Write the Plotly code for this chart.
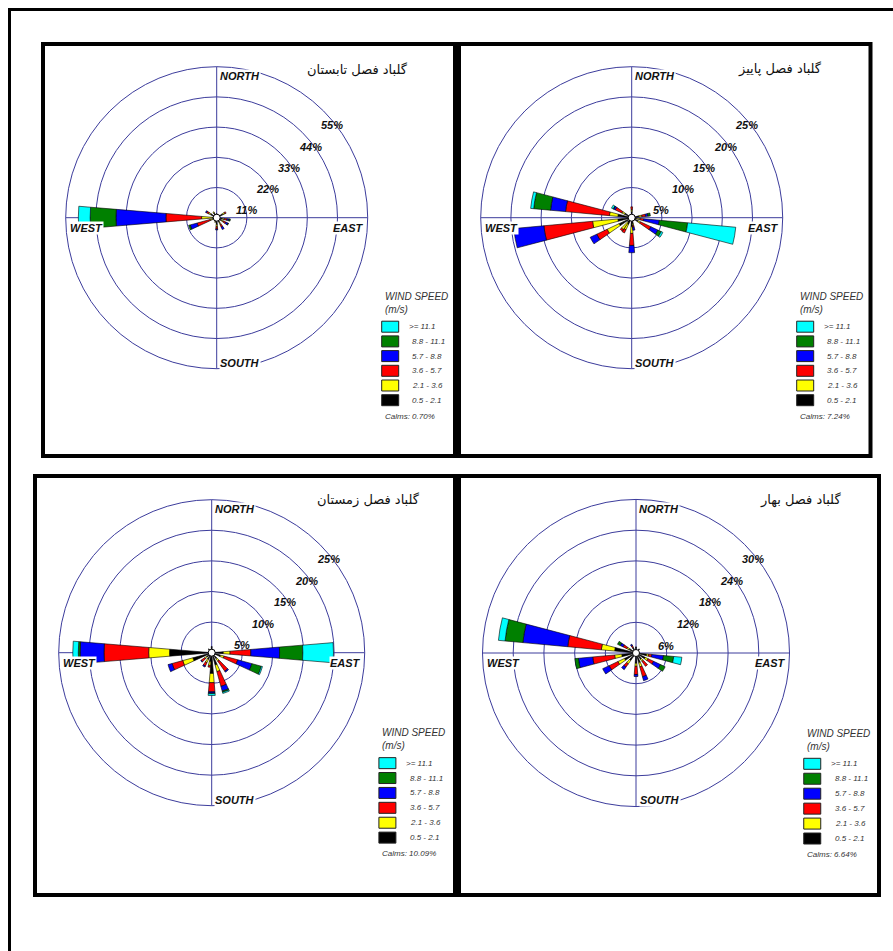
import plotly.graph_objects as go

# full page figure; the body margin is removed by a post script so the figure sits at (0,0)
W, H = 893, 951

# ---------------- data (percent frequency per direction, per speed class) ----------------
SPEED_CLASSES = [">= 11.1", "8.8 - 11.1", "5.7 - 8.8", "3.6 - 5.7", "2.1 - 3.6", "0.5 - 2.1"]
CLASS_COLORS = ["#00FFFF", "#008000", "#0000FF", "#FF0000", "#FFFF00", "#000000"]

# Summer
SUMMER_DIRS = [0, 30, 60, 100, 120, 150, 180, 200, 250, 270, 300, 330]
SUMMER_05_21 = [1.5, 1.2, 2.5, 2.0, 2.0, 2.0, 2.5, 1.5, 1.5, 1.5, 2.5, 2.0]
SUMMER_21_36 = [0, 0, 0.8, 0.8, 0.7, 0.8, 0.8, 0.3, 1.0, 4.0, 0.8, 0.4]
SUMMER_36_57 = [0, 0, 0.5, 1.0, 1.0, 1.0, 0.8, 0, 4.9, 13.0, 0.8, 0]
SUMMER_57_88 = [0, 0, 0, 0.7, 0.9, 1.0, 0.4, 0, 2.6, 18.2, 0.4, 0]
SUMMER_88_111 = [0, 0, 0, 0.5, 0.2, 0, 0, 0, 0.6, 9.4, 0, 0]
SUMMER_111 = [0, 0, 0, 0, 0, 0, 0, 0, 0, 4.3, 0, 0]

# Autumn
AUTUMN_DIRS = [0, 80, 100, 120, 170, 180, 210, 220, 240, 260, 280, 300]
AUTUMN_05_21 = [1.0, 1.2, 0.8, 1.2, 1.0, 1.5, 1.2, 1.0, 2.3, 2.3, 2.3, 1.3]
AUTUMN_21_36 = [0.3, 0.5, 0.6, 0.4, 0.3, 1.1, 1.0, 1.4, 2.2, 4.2, 1.4, 0.5]
AUTUMN_36_57 = [0.5, 0.6, 0.6, 1.9, 0.3, 2.0, 0.6, 0.3, 1.9, 8.1, 7.3, 1.2]
AUTUMN_57_88 = [0, 0.4, 2.6, 1.3, 0.5, 1.2, 0, 0, 1.2, 5.0, 2.5, 0.3]
AUTUMN_88_111 = [0, 0.4, 4.7, 0.6, 0, 0, 0, 0, 0, 0, 2.8, 0.1]
AUTUMN_111 = [0, 0, 8.0, 0.3, 0, 0, 0, 0, 0, 0, 0.5, 0.3]

# Winter
WINTER_DIRS = [0, 40, 90, 110, 140, 160, 180, 190, 210, 230, 250, 270, 320]
WINTER_05_21 = [1.0, 0.6, 1.9, 1.5, 1.2, 2.1, 3.4, 1.5, 1.2, 1.0, 3.2, 6.9, 0.8]
WINTER_21_36 = [0, 0, 1.1, 0.6, 0.5, 1.1, 1.5, 0.6, 0.6, 0.4, 1.7, 3.4, 0]
WINTER_36_57 = [0, 0, 3.4, 2.3, 2.0, 2.5, 1.5, 0.3, 0.6, 0.7, 1.8, 7.3, 0]
WINTER_57_88 = [0, 0, 4.7, 2.4, 0.2, 0.8, 0.2, 0, 0.2, 0.1, 0.7, 3.9, 0]
WINTER_88_111 = [0, 0, 3.8, 1.6, 0, 0.2, 0.1, 0, 0, 0, 0, 0.3, 0]
WINTER_111 = [0, 0, 5.0, 0.2, 0, 0.2, 0.3, 0, 0, 0, 0, 0.9, 0]

# Spring
SPRING_DIRS = [0, 40, 100, 120, 140, 160, 180, 220, 240, 260, 280, 300, 330]
SPRING_05_21 = [1.2, 1.0, 2.1, 2.0, 1.5, 2.0, 2.0, 1.8, 2.5, 2.8, 4.2, 1.5, 1.2]
SPRING_21_36 = [0, 0, 0.4, 0.6, 0.5, 0.8, 0.6, 0.8, 1.4, 1.4, 2.6, 0.5, 0]
SPRING_36_57 = [0, 0, 0.6, 1.2, 1.2, 2.0, 1.6, 0.8, 1.9, 4.3, 6.6, 0.8, 0.4]
SPRING_57_88 = [0, 0, 2.3, 1.5, 0, 0.8, 0.4, 0.6, 1.4, 2.8, 8.8, 0.6, 0.3]
SPRING_88_111 = [0, 0, 2.0, 1.0, 0, 0, 0, 0, 0, 0.7, 3.5, 0.6, 0]
SPRING_111 = [0, 0, 1.6, 0, 0, 0, 0, 0, 0, 0, 1.3, 0, 0]

TITLES = ["گلباد فصل تابستان", "گلباد فصل پاییز", "گلباد فصل زمستان", "گلباد فصل بهار"]
CALMS = ["Calms: 0.70%", "Calms: 7.24%", "Calms: 10.09%", "Calms: 6.64%"]
RING_STEPS = [11, 5, 5, 6]

# ---------------- layout geometry (page pixels) ----------------
CENTERS = [(216.7, 217.7), (631.7, 217.7), (211.7, 652.7), (636.0, 653.0)]
RADII = [151, 151, 153, 153.5]
TITLE_POS = [(410, 70), (824, 68.5), (421.7, 500), (843, 500)]
PANELS = [(43, 44, 455, 456), (459, 44, 870.5, 456), (35, 476, 455, 895), (459, 476, 879, 895)]

RING_COLOR = "#3c3c9c"
FONT_LAT = "Liberation Sans, Arial, sans-serif"


def px(x):
    return x / W


def py(y):
    return 1 - y / H


seasons = [
    (SUMMER_DIRS, [SUMMER_111, SUMMER_88_111, SUMMER_57_88, SUMMER_36_57, SUMMER_21_36, SUMMER_05_21]),
    (AUTUMN_DIRS, [AUTUMN_111, AUTUMN_88_111, AUTUMN_57_88, AUTUMN_36_57, AUTUMN_21_36, AUTUMN_05_21]),
    (WINTER_DIRS, [WINTER_111, WINTER_88_111, WINTER_57_88, WINTER_36_57, WINTER_21_36, WINTER_05_21]),
    (SPRING_DIRS, [SPRING_111, SPRING_88_111, SPRING_57_88, SPRING_36_57, SPRING_21_36, SPRING_05_21]),
]

fig = go.Figure()
annotations = []
shapes = []
layout_polars = {}

for i, (dirs, series) in enumerate(seasons):
    name = "polar" if i == 0 else f"polar{i + 1}"
    cx, cy = CENTERS[i]
    r = RADII[i]
    step = RING_STEPS[i]
    rmax = step * 5
    s = r / 151.0

    # stacked petals: slowest class innermost
    for k in range(5, -1, -1):
        vals = [v if v > 0 else None for v in series[k]]
        fig.add_trace(go.Barpolar(
            r=vals, theta=dirs, width=9.5,
            marker=dict(color=CLASS_COLORS[k], line=dict(color="black", width=0.6)),
            subplot=name, showlegend=False, hoverinfo="skip",
        ))

    layout_polars[name] = dict(
        domain=dict(x=[px(cx - r), px(cx + r)], y=[py(cy + r), py(cy - r)]),
        bgcolor="rgba(0,0,0,0)",
        barmode="stack",
        radialaxis=dict(range=[0, rmax], tickvals=[step * j for j in range(1, 5)],
                        showticklabels=False, ticks="", showline=False,
                        gridcolor=RING_COLOR, gridwidth=1),
        angularaxis=dict(rotation=90, direction="clockwise", tickvals=[0, 90, 180, 270],
                         showticklabels=False, ticks="", gridcolor=RING_COLOR, gridwidth=1,
                         showline=True, linecolor=RING_COLOR, linewidth=1),
    )

    # central calm circle
    cr = 3.5
    shapes.append(dict(type="circle", xref="paper", yref="paper",
                       x0=px(cx - cr), x1=px(cx + cr), y0=py(cy + cr), y1=py(cy - cr),
                       fillcolor="white", line=dict(color="black", width=1), layer="above"))

    # compass labels
    cfont = dict(family=FONT_LAT, size=11, color="#111", style="italic", weight="bold")
    annotations += [
        dict(text="NORTH", x=px(cx + 2), y=py(cy - 141.5 * s), xanchor="left", yanchor="middle",
             showarrow=False, font=cfont, bgcolor="white", borderpad=0),
        dict(text="SOUTH", x=px(cx + 2.5), y=py(cy + 145 * s), xanchor="left", yanchor="middle",
             showarrow=False, font=cfont, bgcolor="white", borderpad=0),
        dict(text="EAST", x=px(cx + 148.5 * s), y=py(cy + 9.8 * s), xanchor="right", yanchor="middle",
             showarrow=False, font=cfont, bgcolor="white", borderpad=0),
        dict(text="WEST", x=px(cx - 148 * s), y=py(cy + 9.8 * s), xanchor="left", yanchor="middle",
             showarrow=False, font=cfont, bgcolor="white", borderpad=0),
    ]

    # ring percentage labels
    offs = [(29.5, -7.3), (51, -28.3), (72.5, -49.7), (93.5, -71), (115, -92.3)]
    for j, (dx, dy) in enumerate(offs):
        annotations.append(dict(text=f"{step * (j + 1)}%", x=px(cx + dx * s), y=py(cy + dy * s),
                                xanchor="center", yanchor="middle", showarrow=False,
                                font=dict(family=FONT_LAT, size=11, color="#111",
                                          style="italic", weight="bold")))

    # title
    tx, ty = TITLE_POS[i]
    annotations.append(dict(text=TITLES[i], x=px(tx), y=py(ty), xanchor="right", yanchor="middle",
                            showarrow=False, font=dict(family="DejaVu Sans, sans-serif", size=13,
                                                       color="#111")))

    # speed legend
    lx = cx + 166 * s
    lfont = dict(family=FONT_LAT, size=10, color="#333", style="italic")
    annotations.append(dict(text="WIND SPEED", x=px(lx), y=py(cy + 79 * s), xanchor="left",
                            yanchor="middle", showarrow=False, font=lfont))
    annotations.append(dict(text="(m/s)", x=px(lx), y=py(cy + 91.5 * s), xanchor="left",
                            yanchor="middle", showarrow=False, font=lfont))
    for k in range(6):
        by = cy + (109 + 14.7 * k) * s
        shapes.append(dict(type="rect", xref="paper", yref="paper",
                           x0=px(lx - 1), x1=px(lx + 16), y0=py(by + 5.5), y1=py(by - 5.5),
                           fillcolor=CLASS_COLORS[k], line=dict(color="#222", width=1)))
        annotations.append(dict(text=SPEED_CLASSES[k], x=px(lx + (24 if k == 0 else 27.5) * s),
                                y=py(by), xanchor="left", yanchor="middle", showarrow=False,
                                font=dict(family=FONT_LAT, size=8, color="#333", style="italic")))
    annotations.append(dict(text=CALMS[i], x=px(lx), y=py(cy + 198.5 * s), xanchor="left",
                            yanchor="middle", showarrow=False,
                            font=dict(family=FONT_LAT, size=8, color="#333", style="italic")))

# panel frames
for (x0, y0, x1, y1) in PANELS:
    shapes.append(dict(type="rect", xref="paper", yref="paper",
                       x0=px(x0), x1=px(x1), y0=py(y1), y1=py(y0),
                       line=dict(color="black", width=4), fillcolor="rgba(0,0,0,0)"))

# outer page frame (top and left)
shapes.append(dict(type="line", xref="paper", yref="paper", x0=px(8), x1=px(893),
                   y0=py(9.5), y1=py(9.5), line=dict(color="black", width=3)))
shapes.append(dict(type="line", xref="paper", yref="paper", x0=px(9.5), x1=px(9.5),
                   y0=py(8), y1=py(951), line=dict(color="black", width=3)))

fig.update_layout(
    width=W, height=H,
    margin=dict(l=0, r=0, t=0, b=0),
    paper_bgcolor="white", plot_bgcolor="white",
    showlegend=False,
    annotations=annotations,
    shapes=shapes,
    **layout_polars,
)

fig.write_html(
    "out.html",
    config={"displayModeBar": False},
    post_script="document.body.style.margin='0';document.body.style.overflow='hidden';",
)
